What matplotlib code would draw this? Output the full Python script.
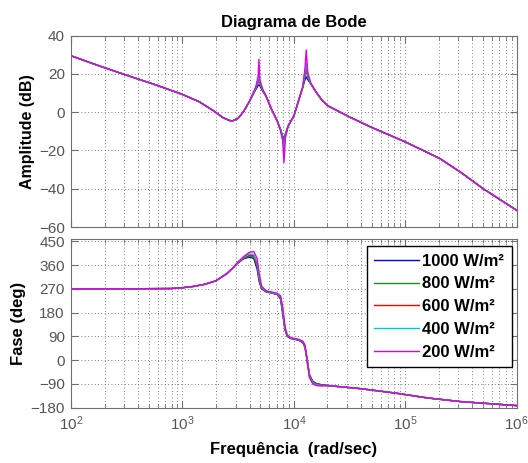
import matplotlib
matplotlib.use("Agg")
import matplotlib.pyplot as plt
import numpy as np

plt.rcParams['font.family'] = ['Liberation Sans', 'DejaVu Sans']

# Frequency grids as log10(rad/s)
w_low = [2.0, 2.25, 2.5, 2.75, 3.0, 3.15, 3.27, 3.36, 3.42, 3.45]
amp_low = [29.5, 24.3, 19.3, 14.5, 9.3, 5.5, 1.1, -2.7, -4.3, -4.5]

w_res = [3.5, 3.55, 3.6, 3.63, 3.66, 3.68, 3.686, 3.695, 3.72, 3.75, 3.8, 3.85,
         3.88, 3.9, 3.911, 3.925, 3.95, 4.0, 4.05, 4.08, 4.1, 4.111, 4.125,
         4.15, 4.2, 4.25]
amp_1000 = [-3.2, 0.5, 5.5, 9, 12, 14, 14.3, 13.8, 11, 8.5, 1.5, -4.5,
            -9, -12.5, -14.5, -11, -7, -2, 7.5, 13, 17, 18.5, 17,
            15, 10.5, 6.5]
amp_800 = [-3.2, 0.5, 5.5, 9, 12.5, 15.5, 17, 15, 11.2, 8.5, 1.5, -4.5,
           -9, -13, -16, -11.5, -7, -2, 7.5, 13, 19, 22, 18,
           15, 10.5, 6.5]
amp_600 = [-3.2, 0.5, 5.5, 9, 12.8, 16, 18.5, 15.5, 11.4, 8.5, 1.5, -4.5,
           -9, -13.5, -18, -12, -7, -2, 7.5, 13, 20, 23.8, 19,
           15, 10.5, 6.5]
amp_400 = [-3.2, 0.5, 5.5, 9.2, 13, 17, 21, 16, 11.6, 8.5, 1.5, -4.5,
           -9, -14, -20, -12, -7, -2, 7.5, 13.2, 21, 25.5, 19.5,
           15, 10.5, 6.5]
amp_200 = [-3.2, 0.5, 5.5, 9.5, 13.5, 19, 27.6, 17, 12, 8.5, 1.5, -4.5,
           -9.5, -15, -26.3, -13, -7, -2, 7.5, 13.5, 23, 32.5, 21,
           15.5, 10.5, 6.5]
w_high = [4.3, 4.5, 4.7, 5.0, 5.31, 5.5, 5.7, 6.0]
amp_high = [3.5, -2.5, -8, -15.5, -24.2, -31.5, -40, -51.3]

w_ph_low = [2.0, 2.5, 2.9, 3.0, 3.1, 3.2, 3.3, 3.4, 3.45]
ph_low = [270, 270, 271, 274, 279, 287, 300, 328, 348]
w_ph_res = [3.5, 3.55, 3.6, 3.64, 3.67, 3.69, 3.71, 3.75, 3.8, 3.85, 3.88, 3.9,
            3.92, 3.94, 3.97, 4.0, 4.04, 4.08, 4.1, 4.12, 4.14, 4.17, 4.2, 4.25]
ph_1000 = [368, 384, 390, 385, 345, 295, 270, 258, 254, 248, 232, 175,
           115, 90, 82, 79, 76, 66, 48, 0, -55, -80, -88, -93]
ph_800 = [369, 386, 394, 390, 355, 300, 272, 260, 255, 249, 236, 180,
          118, 92, 83, 80, 77, 68, 50, 0, -58, -82, -90, -94]
ph_600 = [370, 387, 398, 395, 362, 305, 274, 260, 255, 250, 238, 185,
          120, 93, 84, 80, 77, 69, 52, -2, -60, -84, -91, -95]
ph_400 = [371, 389, 402, 400, 370, 312, 276, 261, 256, 251, 240, 190,
          122, 94, 84, 81, 78, 70, 54, -4, -63, -86, -93, -96]
ph_200 = [372, 392, 408, 411, 385, 325, 280, 263, 258, 253, 244, 200,
          128, 96, 85, 82, 79, 72, 57, -6, -66, -90, -96, -98]
w_ph_high = [4.3, 4.6, 4.9, 5.2, 5.5, 5.8, 6.0]
ph_high = [-96, -108, -124, -143, -157, -166, -172]

labels = ['1000 W/m²', '800 W/m²', '600 W/m²', '400 W/m²', '200 W/m²']
amps = [amp_1000, amp_800, amp_600, amp_400, amp_200]
phases = [ph_1000, ph_800, ph_600, ph_400, ph_200]
colors = ['#0000ff', '#119911', '#ff0000', '#00c8c8', '#e000e0']

amp_yticks = [-60, -40, -20, 0, 20, 40]
ph_yticks = [-180, -90, 0, 90, 180, 270, 360, 450]

fig = plt.figure(figsize=(5.28, 4.63), dpi=100)
ax1 = fig.add_axes([0.1345, 0.5097, 0.8441, 0.4132])
ax2 = fig.add_axes([0.1345, 0.1194, 0.8441, 0.3636])

w_amp = np.array(w_low + w_res + w_high)
w_ph = np.array(w_ph_low + w_ph_res + w_ph_high)
for a, p, c, lab in zip(amps, phases, colors, labels):
    ax1.plot(10 ** w_amp, amp_low + a + amp_high, color=c, lw=1)
    ax2.plot(10 ** w_ph, ph_low + p + ph_high, color=c, lw=1, label=lab)

grid_kw = dict(color='#555555', linestyle=(0, (1, 3)), linewidth=0.6)
for ax in (ax1, ax2):
    ax.set_xscale('log')
    ax.set_xlim(1e2, 1e6)
    ax.grid(True, which='major', **grid_kw)
    ax.grid(True, which='minor', axis='x', **grid_kw)
    ax.tick_params(which='both', direction='in', top=True, right=True,
                   labelsize=11, labelcolor='#555555', color='#707070', pad=4.5)
    ax.tick_params(which='major', length=5)
    ax.tick_params(which='minor', length=3)
    for s in ax.spines.values():
        s.set_color('#707070')

ax1.set_ylim(-60, 40)
ax1.set_yticks(amp_yticks)
ax1.tick_params(labelbottom=False)
ax1.set_ylabel('Amplitude (dB)', fontsize=11.5, fontweight='bold', labelpad=3)
ax1.set_title('Diagrama de Bode', fontsize=12, fontweight='bold', pad=6.5)

ax2.set_ylim(-180, 457)
ax2.set_yticks(ph_yticks)
ax2.set_ylabel('Fase (deg)', fontsize=12, fontweight='bold', labelpad=3.5)
ax2.set_xlabel('Frequência  (rad/sec)', fontsize=12, fontweight='bold', labelpad=7)

leg = ax2.legend(loc='upper right', bbox_to_anchor=(0.989, 0.96), borderaxespad=0,
                 prop={'size': 12, 'weight': 'bold'}, fancybox=False, framealpha=1,
                 edgecolor='black', handlelength=2.7, handletextpad=0.2,
                 labelspacing=0.47, borderpad=0.45)
leg.get_frame().set_linewidth(1)

fig.savefig('out.png', dpi=100)
